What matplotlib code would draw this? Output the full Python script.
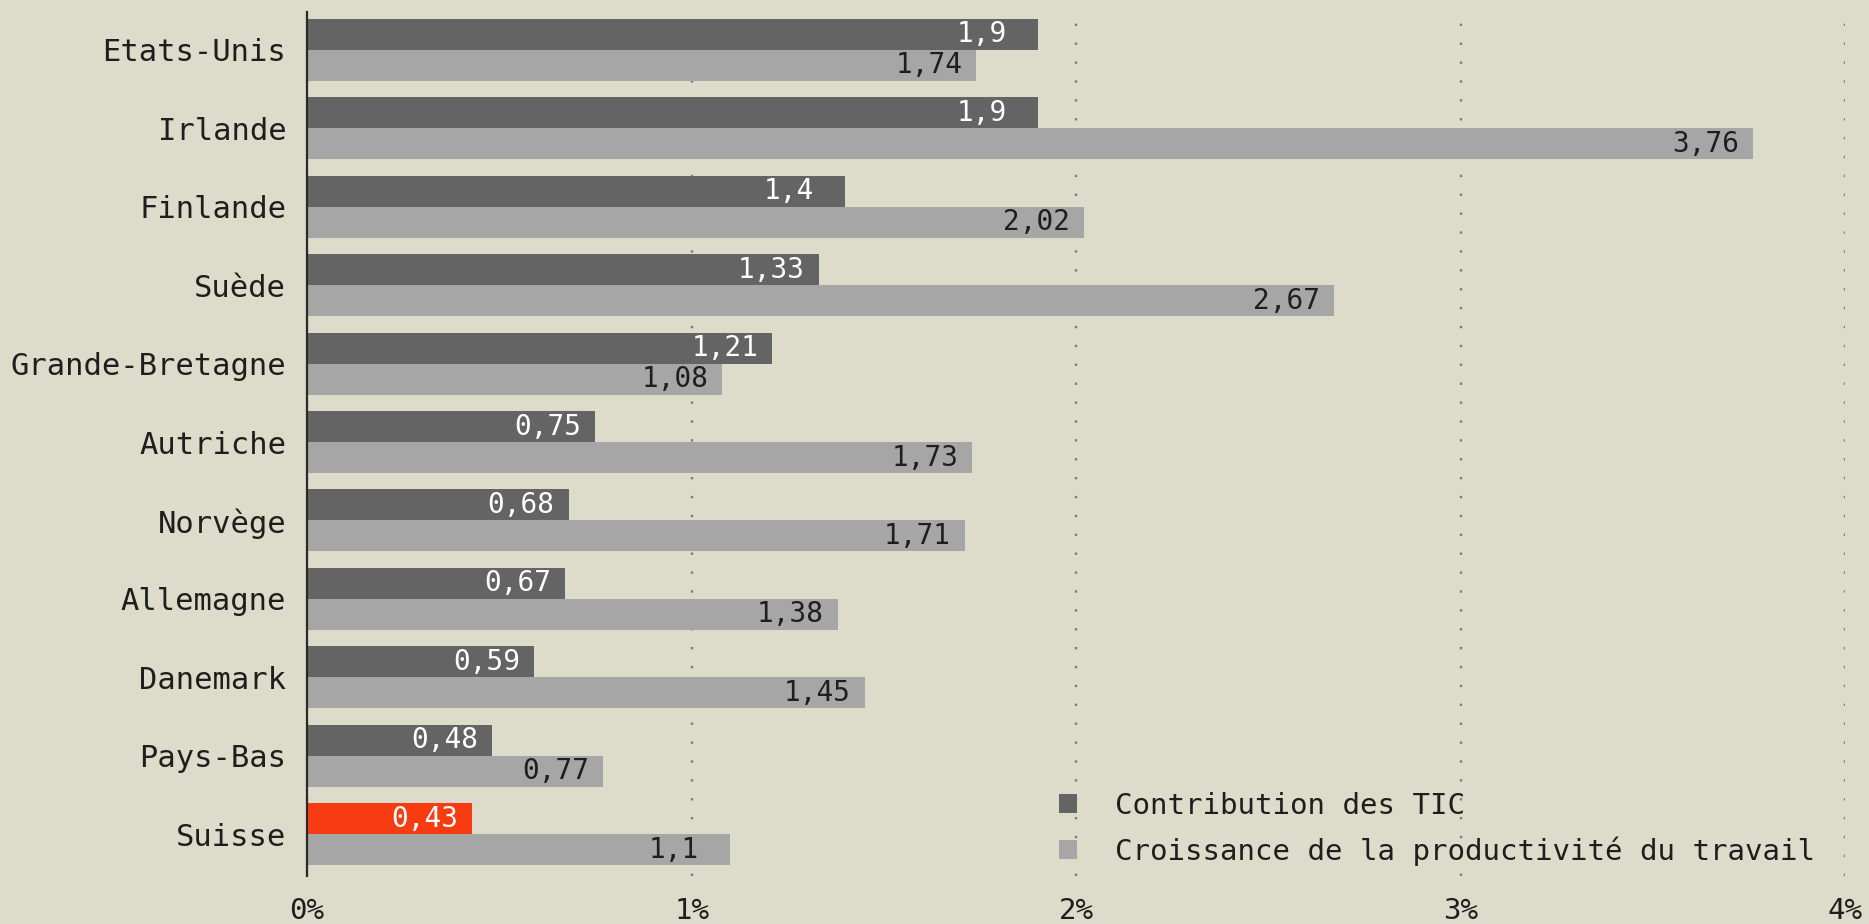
import matplotlib
matplotlib.use('agg')
import matplotlib.pyplot as plt
from matplotlib.patches import Patch

# donnees
pays = ['Etats-Unis', 'Irlande', 'Finlande', 'Suède', 'Grande-Bretagne', 'Autriche',
        'Norvège', 'Allemagne', 'Danemark', 'Pays-Bas', 'Suisse']
tic = [1.9, 1.9, 1.4, 1.33, 1.21, 0.75, 0.68, 0.67, 0.59, 0.48, 0.43]
productivite = [1.74, 3.76, 2.02, 2.67, 1.08, 1.73, 1.71, 1.38, 1.45, 0.77, 1.1]
xticks = [0, 1, 2, 3, 4]
xticklabels = ['0%', '1%', '2%', '3%', '4%']
legende = ['Contribution des TIC', 'Croissance de la productivité du travail']

fond = '#dddbc9'
sombre = '#646464'
clair = '#a6a6a6'
rouge = '#f83c12'
texte = '#1e1e1e'

plt.rcParams['font.family'] = ['DejaVu Sans Mono']

fig = plt.figure(figsize=(18.69, 9.24), dpi=100, facecolor=fond)
ax = fig.add_axes([0.1643, 0.052, 0.823, 0.935])
ax.set_facecolor(fond)

h = 0.395
y = list(range(len(pays)))
couleurs_tic = [rouge if p == 'Suisse' else sombre for p in pays]
b1 = ax.barh([i - h / 2 for i in y], tic, height=h, color=couleurs_tic, zorder=2)
b2 = ax.barh([i + h / 2 for i in y], productivite, height=h, color=clair, zorder=2)


def etiquette(v):
    s = ('%.2f' % v).rstrip('0').replace('.', ',')
    return s


for barres, vals, col in [(b1, tic, 'white'), (b2, productivite, texte)]:
    for rect, v in zip(barres, vals):
        s = etiquette(v)
        dx = -10 if len(s) == 4 else -22.5
        ax.annotate(s, (v, rect.get_y() + rect.get_height() / 2),
                    xytext=(dx, 0), textcoords='offset points',
                    ha='right', va='center', fontsize=20, color=col, zorder=3)

ax.set_xlim(0, 4)
ax.set_ylim(10.53, -0.48)
ax.set_yticks(y)
ax.set_yticklabels(pays, fontsize=22, color=texte)
ax.set_xticks(xticks)
ax.set_xticklabels(xticklabels, fontsize=21, color=texte)
ax.tick_params(axis='y', length=0, pad=15)
ax.tick_params(axis='x', length=0, pad=15)

for s in ['top', 'right', 'bottom']:
    ax.spines[s].set_visible(False)
ax.spines['left'].set_color('#2a2a2a')
ax.spines['left'].set_linewidth(1.6)
ax.spines['left'].set_zorder(4)

ax.set_axisbelow(True)
ax.grid(axis='x', color='#7c7c7c', linestyle=(0, (1, 7)), linewidth=1.7)
ax.grid(axis='y', visible=False)

handles = [Patch(facecolor=sombre), Patch(facecolor=clair)]
ax.legend(handles, legende, loc='upper left', bbox_to_anchor=(0.472, 0.128),
          frameon=False, fontsize=21, handlelength=0.62, handleheight=0.62,
          handletextpad=1.3, labelspacing=0.58, labelcolor=texte)

fig.savefig('out.png', dpi=100, facecolor=fond)
